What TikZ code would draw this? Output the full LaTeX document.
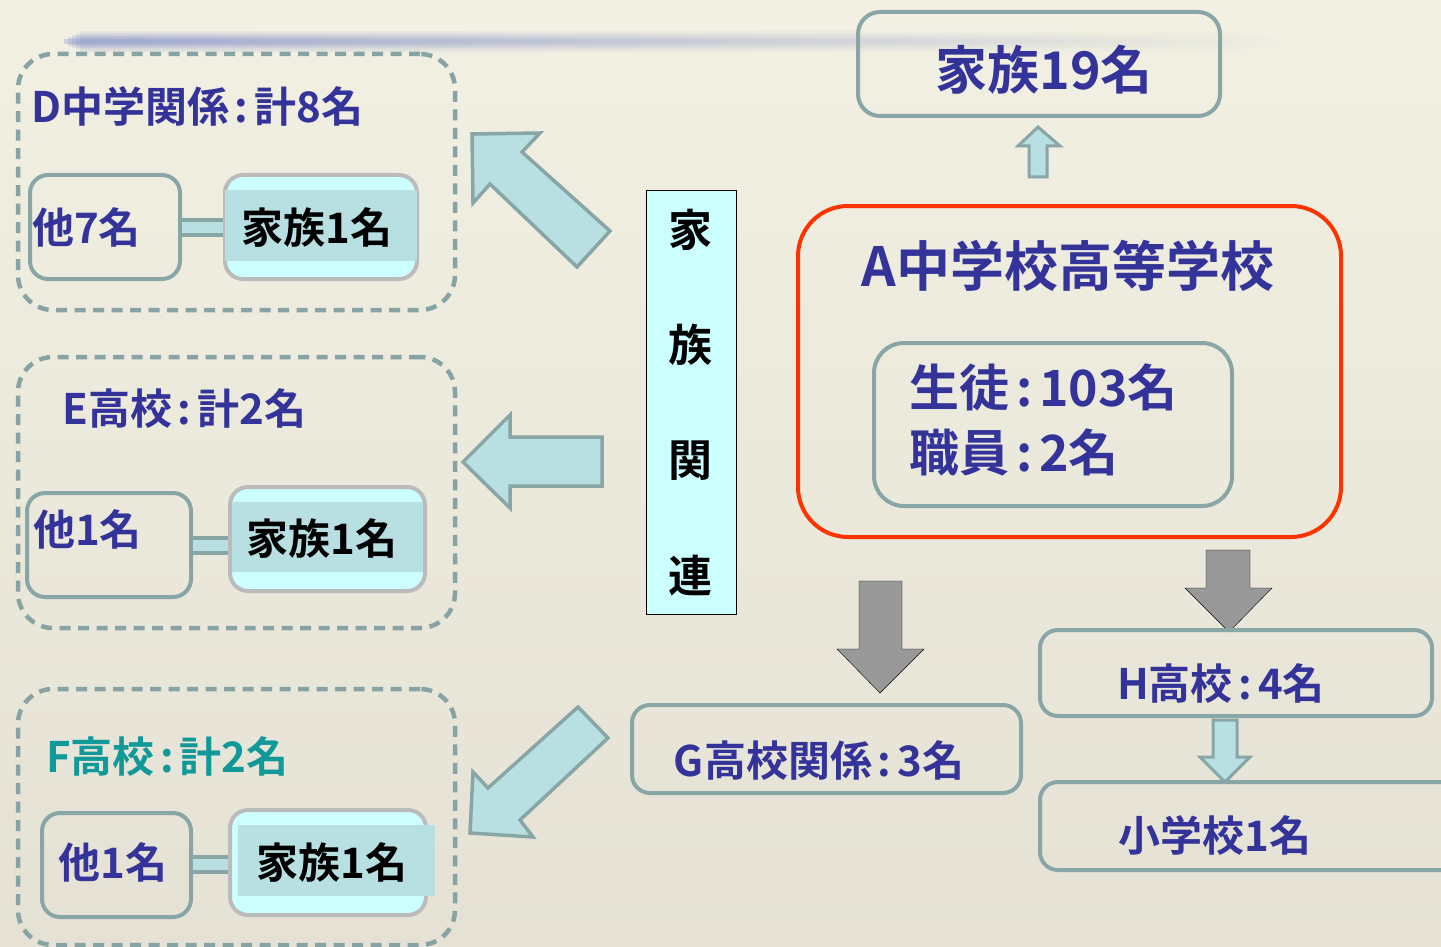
\documentclass[tikz,border=0pt]{standalone}
\usepackage{fontspec}
\setmainfont{Noto Sans CJK JP}[BoldFont={Noto Sans CJK JP Bold}]
\definecolor{navy}{HTML}{333399}
\definecolor{tealtxt}{HTML}{119999}
\definecolor{tealgray}{HTML}{88A6A6}
\definecolor{dashc}{HTML}{87A3A3}
\definecolor{bandc}{HTML}{B8DFE2}
\definecolor{famfill}{HTML}{CCFFFF}
\definecolor{famgray}{HTML}{BBBBBB}
\definecolor{redc}{HTML}{FF3300}
\definecolor{grayarr}{HTML}{999999}
\definecolor{bgtop}{HTML}{F1F0E2}
\definecolor{bgbot}{HTML}{E5E2D5}
\definecolor{blueline}{HTML}{6E7CC6}
\newcommand{\cln}{\makebox[0.6em]{:}}
\begin{document}
\begin{tikzpicture}[x=1pt,y=-1pt,
  dashbox/.style={draw=dashc, line width=4.5pt, dash pattern=on 11pt off 7.5pt, rounded corners=35pt, inner sep=0pt},
  obox/.style={draw=tealgray, line width=4pt, rounded corners=18pt, inner sep=0pt},
  fambox/.style={draw=famgray, line width=4pt, fill=famfill, rounded corners=18pt, inner sep=0pt},
  band/.style={fill=bandc},
  ttl/.style={text=navy, inner sep=0pt, font=\bfseries\fontsize{42}{50}\selectfont},
  big/.style={text=navy, inner sep=0pt, font=\bfseries\fontsize{52}{65}\selectfont},
  blk/.style={text=black, inner sep=0pt, font=\bfseries\fontsize{42}{50}\selectfont},
  conn/.style={draw=tealgray, line width=4pt, double=bandc, double distance=11pt},
  blockarrow/.style={fill=bandc, draw=tealgray, line width=3.5pt, line join=miter},
  grayarrow/.style={fill=grayarr}]
\useasboundingbox (0,0) rectangle (1441,947);
\shade[top color=bgtop, bottom color=bgbot] (0,0) rectangle (1441,947);
% blurred blue line
\foreach \h/\o in {10/0.10, 8/0.12, 6/0.15, 4/0.2, 2/0.25}{
  \shade[left color=blueline, right color=bgtop, opacity=\o] (60+2*\h,42-\h) rectangle (1300-4*\h,42+\h);
}

% ---------------- D group
\node[dashbox, minimum width=437, minimum height=256] (Dgrp) at (236.5,182) {};
\node[ttl, anchor=west] (Dt) at (31,106) {D中学関係\cln 計8名};
\node[obox, minimum width=150, minimum height=104] (Do) at (105,227) {};
\node[ttl, anchor=west] (Dot) at (32,227) {他7名};
\node[fambox, minimum width=192, minimum height=104] (Df) at (321,227) {};
\fill[band] (225,190) rectangle (417,261);
\node[blk] (Dft) at (317,227) {家族1名};
\draw[conn] (Do.east) -- (Df.west);

% ---------------- E group
\node[dashbox, minimum width=437, minimum height=271] (Egrp) at (236.5,492.5) {};
\node[ttl, anchor=west] (Et) at (62,408) {E高校\cln 計2名};
\node[obox, minimum width=164, minimum height=104] (Eo) at (109,545) {};
\node[ttl, anchor=west] (Eot) at (33,529) {他1名};
\node[fambox, minimum width=195, minimum height=104] (Ef) at (327.5,539) {};
\fill[band] (232,502) rectangle (423,572);
\node[blk] (Eft) at (322,538) {家族1名};
\draw[conn] (Eo.east) -- (Eo.east -| Ef.west);

% ---------------- F group
\node[dashbox, minimum width=437, minimum height=256] (Fgrp) at (236.5,817) {};
\node[ttl, text=tealtxt, anchor=west] (Ft) at (46,756) {F高校\cln 計2名};
\node[obox, minimum width=149, minimum height=104] (Fo) at (116.5,865) {};
\node[ttl] (Fot) at (113,862) {他1名};
\node[fambox, minimum width=196, minimum height=105] (Ff) at (328,862.5) {};
\fill[band] (238,825) rectangle (435,896);
\node[blk] (Fft) at (332,862) {家族1名};
\draw[conn] (Fo.east |- 0,864.5) -- (Ff.west |- 0,864.5);

% ---------------- block arrows to the left
\draw[blockarrow] (472,134) -- (540,133) -- (522,152) -- (610,231) -- (577,267) -- (490,184) -- (473,203) -- cycle;
\draw[blockarrow] (463,462) -- (510,415) -- (510,437) -- (602,437) -- (602,486) -- (510,486) -- (510,508) -- cycle;
\draw[blockarrow] (470,833) -- (473,772) -- (488,788) -- (578,707) -- (608,738) -- (520,820) -- (533,837) -- cycle;

% ---------------- vertical label box
\node[draw=black, line width=1.6pt, fill=famfill, minimum width=90, minimum height=424, inner sep=0pt] (vert) at (691.5,402.5) {};
\node[blk, font=\bfseries\fontsize{44}{50}\selectfont] (v1) at (690,230) {家};
\node[blk, font=\bfseries\fontsize{44}{50}\selectfont] (v2) at (690,345) {族};
\node[blk, font=\bfseries\fontsize{44}{50}\selectfont] (v3) at (690,461) {関};
\node[blk, font=\bfseries\fontsize{44}{50}\selectfont] (v4) at (690,576) {連};

% ---------------- right side
\node[obox, rounded corners=22pt, minimum width=362, minimum height=104] (fam19) at (1039,64) {};
\node[big] (fam19t) at (1044,70) {家族19名};
\draw[blockarrow, line width=3pt] (1038,127) -- (1060,146) -- (1047,146) -- (1047,177) -- (1029,177) -- (1029,146) -- (1018,146) -- cycle;

\node[draw=redc, line width=4pt, rounded corners=50pt, minimum width=543, minimum height=331, inner sep=0pt] (A) at (1069.5,371.5) {};
\node[big, font=\bfseries\fontsize{54}{65}\selectfont] (At) at (1068,266) {A中学校高等学校};
\node[obox, rounded corners=30pt, minimum width=358, minimum height=163] (Ain) at (1053,424.5) {};
\node[big, font=\bfseries\fontsize{50}{65}\selectfont, anchor=west, align=left] (Aint) at (909,420) {生徒\cln 103名\\職員\cln 2名};

\draw[grayarrow] (859,581) -- (902,581) -- (902,649) -- (924,649) -- (880,693) -- (837,649) -- (859,649) -- cycle;
\draw[grayarrow] (1206,550) -- (1250,550) -- (1250,588) -- (1272,588) -- (1229,632) -- (1185,588) -- (1206,588) -- cycle;

\node[obox, minimum width=389, minimum height=88] (G) at (826.5,749) {};
\node[ttl] (Gt) at (819,760) {G高校関係\cln 3名};
\node[obox, minimum width=392, minimum height=86] (H) at (1236,673) {};
\node[ttl] (Ht) at (1221,683) {H高校\cln 4名};
\node[obox, minimum width=430, minimum height=88] (S) at (1255,826) {};
\node[ttl] (St) at (1215,835) {小学校1名};
\draw[blockarrow, line width=3pt] (1213,720) -- (1237,720) -- (1237,757) -- (1250,757) -- (1225,782) -- (1200,757) -- (1213,757) -- cycle;
\end{tikzpicture}
\end{document}
